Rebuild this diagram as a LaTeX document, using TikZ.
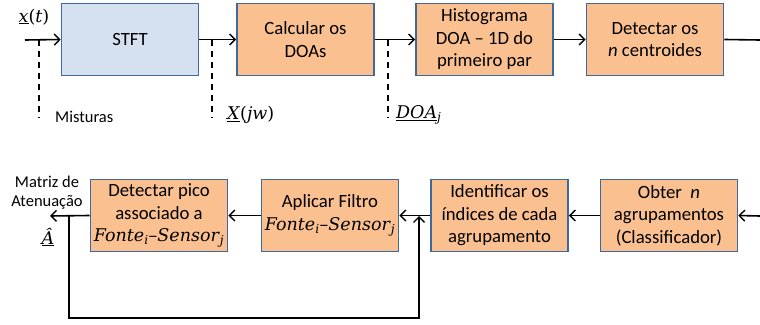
\documentclass[tikz,border=0pt]{standalone}
\usepackage{fontspec}
\setmainfont{Carlito}
\newfontfamily\symfont{DejaVu Serif}
\usetikzlibrary{arrows.meta}
\definecolor{boxorange}{HTML}{FAC090}
\definecolor{boxblue}{HTML}{D5E0F1}
\definecolor{boxedge}{HTML}{41689A}
\tikzset{
  blockbox/.style={draw=boxedge, line width=1.6pt, fill=boxorange, minimum width=137pt,
    minimum height=72pt, align=center, font=\fontsize{18.7}{22.5}\selectfont, inner sep=1pt},
  flow/.style={line width=1.6pt, -{Straight Barb[length=5.5pt,width=11pt,line width=1.4pt]}},
  wire/.style={line width=1.6pt},
  tap/.style={line width=1.4pt, dash pattern=on 6pt off 5pt},
  smalllabel/.style={font=\fontsize{16.5}{20}\selectfont, inner sep=0pt},
  mathlabel/.style={font=\symfont\fontsize{17.5}{20}\selectfont, inner sep=0pt}
}
% italic variable with a subscript, set in the serif symbol face
\newcommand{\var}[1]{\textit{#1}}
\newcommand{\fontsensor}{{\symfont\fontsize{17.5}{22.5}\selectfont
  \var{Fonte}\textsubscript{\var{i}}–\var{Sensor}\textsubscript{\var{j}}}}
\begin{document}
\begin{tikzpicture}[x=1pt,y=-1pt]
\useasboundingbox (0,0) rectangle (760,324);

% upper chain
\node[blockbox, fill=boxblue] (stft) at (130,39.5) {STFT};
\node[blockbox] (doa) at (305.5,39.5) {Calcular os\\DOAs};
\node[blockbox] (hist) at (484.5,39.5) {Histograma\\DOA -- 1D do\\primeiro par};
\node[blockbox] (cent) at (655,39.5) {Detectar os\\\textit{n} centroides};

% lower chain
\node[blockbox] (pico) at (159,215.5) {Detectar pico\\associado a\\\fontsensor};
\node[blockbox] (filt) at (330,215.5) {Aplicar Filtro\\\fontsensor};
\node[blockbox] (idx) at (499.5,215.5) {Identificar os\\índices de cada\\agrupamento};
\node[blockbox] (grp) at (669,215.5) {Obter~ \textit{n}\\agrupamentos\\(Classificador)};

% connection points
\coordinate (in) at (25,40);
\coordinate (tapa) at (39,40);
\coordinate (tapaend) at (39,118);
\coordinate (tapb) at (212,40);
\coordinate (tapbend) at (212,118);
\coordinate (tapc) at (388,40);
\coordinate (tapcend) at (388,118);
\coordinate (outtop) at (760,40);
\coordinate (inbot) at (760,216);
\coordinate (out) at (50,216);
\coordinate (split) at (69,216);
\coordinate (fbl) at (69,318);
\coordinate (fbr) at (419,318);
\coordinate (fbend) at (419,216);

% upper connectors
\draw[flow] (in) -- (stft.west);
\draw[flow] (stft.east) -- (doa.west);
\draw[flow] (doa.east) -- (hist.west);
\draw[flow] (hist.east) -- (cent.west);
\draw[wire] (cent.east) -- (outtop);

% signal taps
\draw[tap] (tapa) -- (tapaend);
\draw[tap] (tapb) -- (tapbend);
\draw[tap] (tapc) -- (tapcend);

% lower connectors
\draw[flow] (inbot) -- (grp.east);
\draw[flow] (grp.west) -- (idx.east);
\draw[flow] (idx.west) -- (filt.east);
\draw[flow] (filt.west) -- (pico.east);
\draw[flow] (pico.west) -- (out);
\draw[flow] (split) -- (fbl) -- (fbr) -- (fbend);

% labels
\node[mathlabel] (lx) at (34,17) {\underline{\var{x}}(\var{t})};
\node[smalllabel, anchor=west] (lmix) at (55,117) {Misturas};
\node[mathlabel, anchor=west] (lX) at (227,115) {\underline{\var{X}}(\var{jw})};
\node[mathlabel, anchor=west] (lD) at (396,115) {\underline{\var{DOA}}\textsubscript{\var{j}}};
\node[smalllabel] (lm1) at (47,182) {Matriz de};
\node[smalllabel] (lm2) at (47,202) {Atenuação};
\node[mathlabel] (lA) at (48,237) {\underline{\var{Â}}};
\end{tikzpicture}
\end{document}
